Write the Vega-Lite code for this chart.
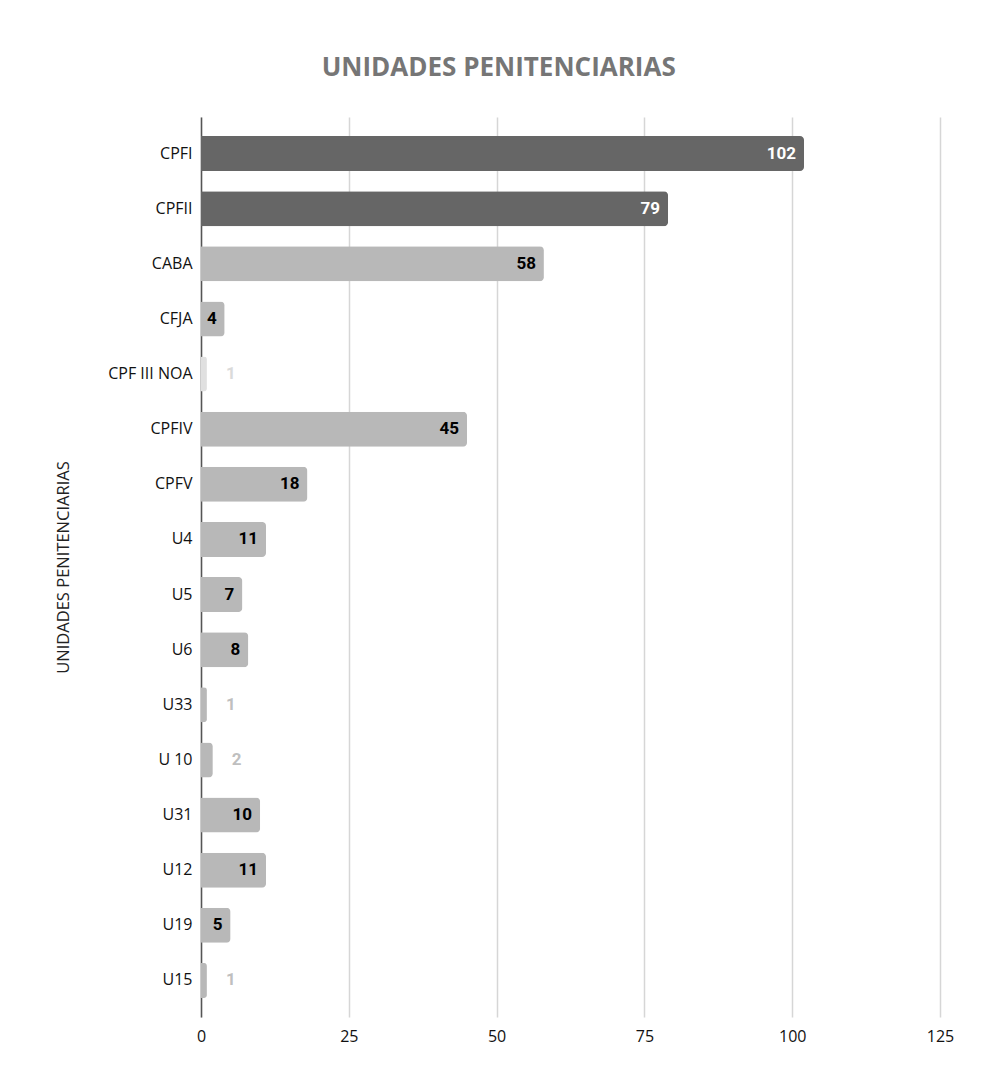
{
  "$schema": "https://vega.github.io/schema/vega-lite/v6.json",
  "width": 739,
  "height": 900,
  "autosize": {"type": "none"},
  "padding": {"left": 201, "top": 117, "right": 49, "bottom": 75},
  "background": "white",
  "title": {
    "text": "UNIDADES PENITENCIARIAS",
    "font": "Open Sans",
    "fontSize": 26,
    "fontWeight": "bold",
    "color": "#767676",
    "anchor": "middle",
    "frame": "bounds",
    "offset": 36,
    "dx": -6
  },
  "config": {
    "view": {"stroke": null},
    "axis": {"labelFont": "Open Sans", "titleFont": "Open Sans"}
  },
  "data": {
    "values": [
      {"unidad": "CPFI", "valor": 102},
      {"unidad": "CPFII", "valor": 79},
      {"unidad": "CABA", "valor": 58},
      {"unidad": "CFJA", "valor": 4},
      {"unidad": "CPF III NOA", "valor": 1},
      {"unidad": "CPFIV", "valor": 45},
      {"unidad": "CPFV", "valor": 18},
      {"unidad": "U4", "valor": 11},
      {"unidad": "U5", "valor": 7},
      {"unidad": "U6", "valor": 8},
      {"unidad": "U33", "valor": 1},
      {"unidad": "U 10", "valor": 2},
      {"unidad": "U31", "valor": 10},
      {"unidad": "U12", "valor": 11},
      {"unidad": "U19", "valor": 5},
      {"unidad": "U15", "valor": 1}
    ]
  },
  "encoding": {
    "y": {
      "field": "unidad",
      "type": "nominal",
      "sort": null,
      "scale": {"paddingInner": 0.365, "paddingOuter": 0.345},
      "axis": {
        "title": "UNIDADES PENITENCIARIAS",
        "titleFontSize": 16.5,
        "titleFontWeight": "normal",
        "titleColor": "#222222",
        "titlePadding": 36,
        "labelFontSize": 16,
        "labelColor": "#111111",
        "labelPadding": 9,
        "ticks": false,
        "domainColor": "#555555",
        "domainWidth": 1.5
      }
    },
    "x": {
      "field": "valor",
      "type": "quantitative",
      "scale": {"domain": [0, 125]},
      "axis": {
        "title": null,
        "values": [0, 25, 50, 75, 100, 125],
        "grid": true,
        "gridColor": "#d6d6d6",
        "gridWidth": 1.5,
        "domain": false,
        "ticks": false,
        "labelFlush": false,
        "labelFontSize": 16,
        "labelColor": "#111111",
        "labelPadding": 11
      }
    }
  },
  "layer": [
    {
      "mark": {"type": "bar", "cornerRadiusEnd": 4},
      "encoding": {
        "color": {
          "condition": [
            {"test": "datum.valor > 60", "value": "#666666"},
            {"test": "datum.unidad === 'CPF III NOA'", "value": "#e0e0e0"}
          ],
          "value": "#b8b8b8"
        }
      }
    },
    {
      "transform": [{"filter": "datum.valor >= 3"}],
      "mark": {"type": "text", "align": "right", "dx": -8, "font": "Roboto", "fontSize": 17, "fontWeight": "bold"},
      "encoding": {
        "text": {"field": "valor", "type": "quantitative"},
        "color": {
          "condition": {"test": "datum.valor > 60", "value": "#ffffff"},
          "value": "#000000"
        }
      }
    },
    {
      "transform": [{"filter": "datum.valor < 3"}],
      "mark": {"type": "text", "align": "left", "dx": 19, "font": "Roboto", "fontSize": 17, "fontWeight": "bold"},
      "encoding": {
        "text": {"field": "valor", "type": "quantitative"},
        "color": {
          "condition": {"test": "datum.unidad === 'CPF III NOA'", "value": "#dadada"},
          "value": "#bfbfbf"
        }
      }
    }
  ]
}
